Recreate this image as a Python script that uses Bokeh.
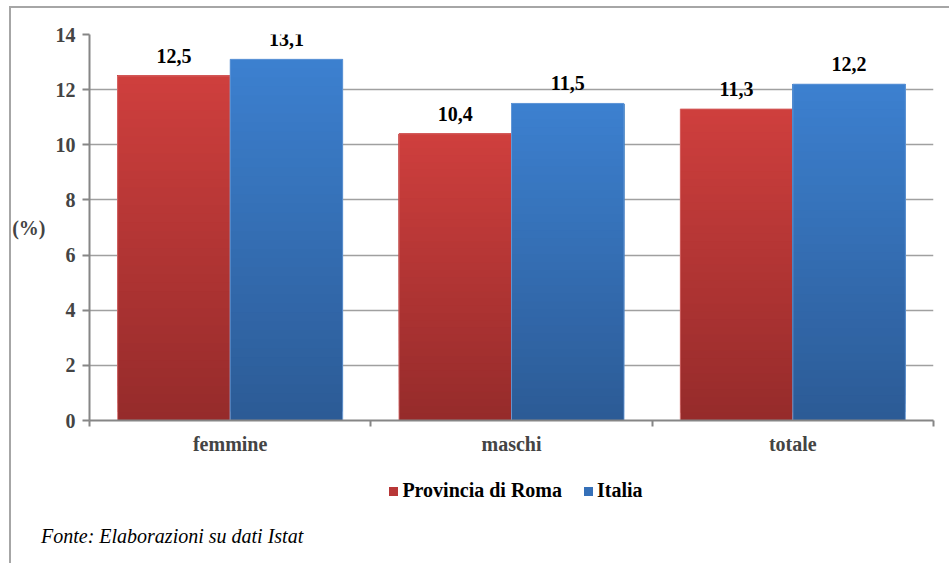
import numpy as np
from bokeh.plotting import figure
from bokeh.models import FixedTicker, Range1d, Div
from bokeh.layouts import column
from bokeh.embed import file_html
from bokeh.resources import INLINE
from bokeh.core.properties import value

# ---- data ----
categories = ["femmine", "maschi", "totale"]
series_names = ["Provincia di Roma", "Italia"]
roma = [12.5, 10.4, 11.3]
italia = [13.1, 11.5, 12.2]
y_ticks = [0, 2, 4, 6, 8, 10, 12, 14]
y_label = "(%)"
source_note = "Fonte: Elaborazioni su dati Istat"

FONT = "'Liberation Serif', 'Times New Roman', Tinos, serif"
FS = "20px"
GRAY = "#A0A0A0"
AXIS_GRAY = "#868686"
FRAME_GRAY = "#A6A6A6"

# colours: (bottom/dark, top/light, edge, legend)
red = ("#962B2B", "#CE3F3D", "#D97373", "#B83737")
blue = ("#2C5B96", "#3C80CF", "#6E9FDA", "#3570B8")


def lerp(c1, c2, t):
    a = [int(c1[i:i + 2], 16) for i in (1, 3, 5)]
    b = [int(c2[i:i + 2], 16) for i in (1, 3, 5)]
    return "#" + "".join(f"{round(x + (y - x) * t):02x}" for x, y in zip(a, b))


p = figure(width=941, height=466, output_backend="svg", toolbar_location=None,
           x_range=Range1d(0, len(categories)), y_range=Range1d(0, max(y_ticks)),
           min_border_left=89, min_border_top=34, min_border_right=8,
           min_border_bottom=46)
p.outline_line_color = None
p.background_fill_color = "white"
p.border_fill_color = None

bar_w = 0.4
N = 40
for s, (vals, cols) in enumerate([(roma, red), (italia, blue)]):
    xs = [i + 0.5 + (s - 0.5) * bar_w for i in range(len(categories))]
    for k in range(N):
        bottoms = [v * k / N for v in vals]
        p.vbar(x=xs, width=bar_w, bottom=bottoms, top=vals,
               fill_color=lerp(cols[0], cols[1], k / (N - 1)), line_color=None)
    p.vbar(x=xs, width=bar_w, bottom=0, top=vals, fill_color=None,
           line_color=cols[2], line_width=1, line_alpha=0.8)
    labels = [f"{v:.1f}".replace(".", ",") for v in vals]
    p.text(x=xs, y=vals, text=labels, text_font=value(FONT), text_font_style="bold",
           text_font_size=FS, text_align="center", text_baseline="alphabetic",
           y_offset=-20, text_color="black")

# y axis
yax = p.yaxis[0]
yax.ticker = FixedTicker(ticks=y_ticks)
yax.axis_label = y_label
if "axis_label_orientation" in yax.properties():
    yax.axis_label_orientation = "horizontal"
yax.axis_label_text_font = FONT
yax.axis_label_text_font_style = "bold"
yax.axis_label_text_font_size = FS
yax.axis_label_standoff = 7
yax.major_label_text_font = FONT
yax.major_label_text_font_style = "bold"
yax.major_label_text_font_size = FS
yax.major_label_standoff = 7
yax.major_tick_out = 7
yax.major_tick_in = 0
yax.major_tick_line_color = AXIS_GRAY
yax.major_tick_line_width = 2
yax.minor_tick_line_color = None
yax.axis_line_color = AXIS_GRAY
yax.axis_line_width = 2

p.ygrid.grid_line_color = GRAY
p.ygrid.grid_line_width = 1.5
p.xgrid.visible = False

# x axis: labels at category centres, ticks at boundaries
xax = p.xaxis[0]
centers = [i + 0.5 for i in range(len(categories))]
xax.ticker = FixedTicker(ticks=centers, minor_ticks=list(range(len(categories) + 1)))
xax.major_label_overrides = {c: cat for c, cat in zip(centers, categories)}
xax.major_tick_line_color = None
xax.major_tick_out = 0
xax.major_tick_in = 0
xax.minor_tick_line_color = AXIS_GRAY
xax.minor_tick_line_width = 2
xax.minor_tick_out = 6
xax.minor_tick_in = 0
xax.axis_line_color = AXIS_GRAY
xax.axis_line_width = 2
xax.major_label_text_font = FONT
xax.major_label_text_font_style = "bold"
xax.major_label_text_font_size = FS
xax.major_label_standoff = 6

# legend + source note (below the chart)
sq = ('<span style="display:inline-block;width:9px;height:9px;background:{c};'
      'margin-right:4px;vertical-align:middle;position:relative;top:-1px"></span>')
items = []
for name, cols in zip(series_names, [red, blue]):
    items.append(f'<span style="white-space:nowrap">{sq.format(c=cols[3])}{name}</span>')
legend_html = '<span style="display:inline-block;width:22px"></span>'.join(items)
html = (
    f'<div style="position:relative;width:941px;height:89px;font-family:{FONT};color:black">'
    f'<div style="position:absolute;top:8px;left:89px;width:844px;text-align:center;'
    f'font-weight:bold;font-size:{FS};line-height:22px">{legend_html}</div>'
    f'<div style="position:absolute;top:54px;left:36px;font-style:italic;font-size:{FS};'
    f'line-height:22px;white-space:nowrap">{source_note}</div>'
    '</div>'
)
div = Div(text=html, width=941, height=89)

frame_bg = (f"linear-gradient({FRAME_GRAY},{FRAME_GRAY}) 9px 6px / 2px 100% no-repeat, "
            f"linear-gradient({FRAME_GRAY},{FRAME_GRAY}) 9px 6px / 100% 2px no-repeat, white")
layout = column(p, div, spacing=0, styles={"background": frame_bg})
open("out.html", "w").write(file_html(layout, INLINE))
